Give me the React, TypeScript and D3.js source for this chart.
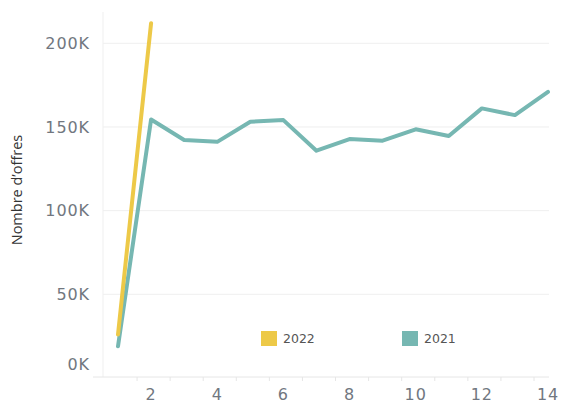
import React from "react";
import * as d3 from "d3";

const months: number[] = [1, 2, 3, 4, 5, 6, 7, 8, 9, 10, 11, 12, 13, 14];
const values2021: number[] = [19000, 154500, 142200, 141100, 153100, 154100, 135800, 142800, 141800, 148600, 144600, 161100, 157100, 171000];
const months2022: number[] = [1, 2];
const values2022: number[] = [26000, 212000];
const yTicks: number[] = [0, 50000, 100000, 150000, 200000];
const xTicks: number[] = [2, 4, 6, 8, 10, 12, 14];
const minorTicks: number[] = [2, 3, 4, 5, 6, 7, 8, 9, 10, 11, 12, 13, 14];
const legendItems = [
  { label: "2022", color: "#EDC948" },
  { label: "2021", color: "#76B7B2" },
];

const W = 562;
const H = 404;
const plotLeft = 103;
const plotRight = 549;
const plotTop = 12;
const plotBottom = 377;

export default function App() {
  const x = d3.scaleLinear().domain([1, 14]).range([118, 548]);
  const y = d3.scaleLinear().domain([0, 200000]).range([378, 43.3]);
  const line = d3
    .line<[number, number]>()
    .x((d) => x(d[0]))
    .y((d) => y(d[1]));
  const d2021 = line(months.map((m, i) => [m, values2021[i]] as [number, number]));
  const d2022 = line(months2022.map((m, i) => [m, values2022[i]] as [number, number]));
  const fmt = (v: number) => `${v / 1000}K`;
  const tickFont = "'DejaVu Sans', sans-serif";

  return (
    <svg
      width={W}
      height={H}
      style={{ position: "absolute", left: 0, top: 0, background: "#fff" }}
    >
      {yTicks.slice(1).map((t) => (
        <line key={t} x1={plotLeft} x2={plotRight} y1={y(t)} y2={y(t)} stroke="#efefef" strokeWidth={1} />
      ))}
      <line x1={plotLeft} x2={plotLeft} y1={plotTop} y2={plotBottom} stroke="#efefef" strokeWidth={1} />
      <line x1={93} x2={plotRight} y1={plotBottom} y2={plotBottom} stroke="#e6e6e6" strokeWidth={1} />
      {minorTicks.map((t) => (
        <line key={t} x1={x(t) - 14} x2={x(t) - 14} y1={plotBottom} y2={plotBottom + 4} stroke="#e6e6e6" strokeWidth={1} />
      ))}
      {yTicks.map((t) => (
        <text
          key={t}
          x={90}
          y={t === 0 ? 364 : y(t)}
          dy="0.36em"
          textAnchor="end"
          fontFamily={tickFont}
          fontSize={16}
          letterSpacing={0.9}
          fill="#717780"
        >
          {fmt(t)}
        </text>
      ))}
      {xTicks.map((t) => (
        <text
          key={t}
          x={x(t)}
          y={400}
          textAnchor="middle"
          fontFamily={tickFont}
          fontSize={16}
          letterSpacing={0.9}
          fill="#717780"
        >
          {t}
        </text>
      ))}
      <text
        transform={`translate(22,190) rotate(-90)`}
        textAnchor="middle"
        fontFamily="'Open Sans', sans-serif"
        fontSize={14.5}
        fill="#333"
      >
        Nombre d’offres
      </text>
      <path d={d2021 ?? ""} fill="none" stroke="#76B7B2" strokeWidth={4} strokeLinejoin="round" strokeLinecap="round" />
      <path d={d2022 ?? ""} fill="none" stroke="#EDC948" strokeWidth={4} strokeLinejoin="round" strokeLinecap="round" />
      {legendItems.map((it, i) => (
        <g key={it.label} transform={`translate(${261 + i * 141},331)`}>
          <rect width={16} height={15} fill={it.color} />
          <text x={22} y={7.5} dy="0.36em" fontFamily={tickFont} fontSize={12.5} fill="#555">
            {it.label}
          </text>
        </g>
      ))}
    </svg>
  );
}
